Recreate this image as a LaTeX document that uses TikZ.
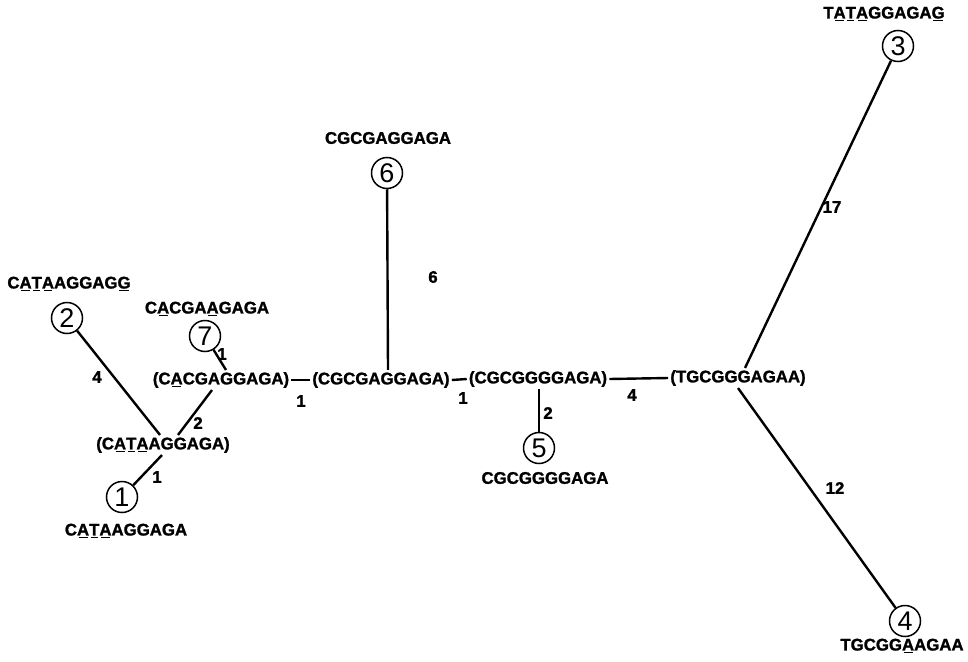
\documentclass[tikz,border=0pt]{standalone}
\usepackage{fontspec}
\newfontfamily\seqfont{Liberation Sans}[BoldFeatures={FakeBold=1.4}]
% underline a single mutated base, a little shorter than the letter
\newcommand\mut[1]{\setbox0\hbox{#1}\rlap{\hspace{1.6pt}\rule[-2.8pt]{\dimexpr\wd0-3.2pt\relax}{1.4pt}}\box0}
\begin{document}
\begin{tikzpicture}[x=1pt,y=-1pt,
  seq/.style={font=\seqfont\bfseries\fontsize{16.8}{18}\selectfont, inner sep=2pt},
  leaf/.style={circle, draw, line width=1.5pt, minimum size=31pt, inner sep=0pt,
               font=\seqfont\fontsize{27}{27}\selectfont},
  num/.style={font=\seqfont\bfseries\fontsize{16.8}{18}\selectfont, inner sep=0pt},
  branch/.style={line width=2.4pt}]
\useasboundingbox (0,0) rectangle (968,661);

% leaves with their sequences
\node[seq] (t3) at (884,14) {T\mut{A}\mut{T}\mut{A}GGAGA\mut{G}};
\node[leaf] (c3) at (898,46) {3};
\node[seq] (t2) at (69,284) {C\mut{A}\mut{T}\mut{A}AGGAG\mut{G}};
\node[leaf] (c2) at (67,318) {2};
\node[seq] (t7) at (207,309) {C\mut{A}CGA\mut{A}GAGA};
\node[leaf] (c7) at (205,336) {7};
\node[seq] (t6) at (388,138) {CGCGAGGAGA};
\node[leaf] (c6) at (387,173) {6};
\node[leaf] (c1) at (122,497) {1};
\node[seq] (t1) at (126,531) {C\mut{A}\mut{T}\mut{A}AGGAGA};
\node[leaf] (c5) at (539,448) {5};
\node[seq] (t5) at (545,478) {CGCGGGGAGA};
\node[leaf] (c4) at (905,621) {4};
\node[seq] (t4) at (902,646) {TGCGG\mut{A}AGAA};

% inferred ancestors
\node[seq] (a7) at (221,380) {(C\mut{A}CGAGGAGA)};
\node[seq] (a6) at (381,380) {(CGCGAGGAGA)};
\node[seq] (a5) at (538,379) {(CGCGGGGAGA)};
\node[seq] (a34) at (738,378) {(TGCGGGAGAA)};
\node[seq] (a1) at (163,445) {(C\mut{A}\mut{T}\mut{A}AGGAGA)};

% branches
\draw[branch] (c2) -- ([xshift=-3pt]a1.north);
\draw[branch] ([xshift=15pt]a1.north) -- ([xshift=-9pt]a7.south);
\draw[branch] (c1) -- ([xshift=-1pt]a1.south);
\draw[branch] (c7) -- ([xshift=5pt]a7.north);
\draw[branch] (a7.east) -- (a6.west);
\draw[branch] (a6.east) -- (a5.west);
\draw[branch] (a5.east) -- (a34.west);
\draw[branch] (c6) -- ([xshift=7pt]a6.north);
\draw[branch] ([xshift=1pt]a5.south) -- (c5);
\draw[branch] ([xshift=7pt]a34.north) -- (c3);
\draw[branch] (a34.south) -- (c4);

% branch lengths
\node[num] (n24) at (97,377) {4};
\node[num] (n12) at (198,423) {2};
\node[num] (n11) at (157,477) {1};
\node[num] (n71) at (222,354) {1};
\node[num] (n761) at (301,401) {1};
\node[num] (n651) at (463,398) {1};
\node[num] (n66) at (433,277) {6};
\node[num] (n52) at (548,413) {2};
\node[num] (n54) at (632,395) {4};
\node[num] (n317) at (832,207) {17};
\node[num] (n412) at (835,488) {12};
\end{tikzpicture}
\end{document}
